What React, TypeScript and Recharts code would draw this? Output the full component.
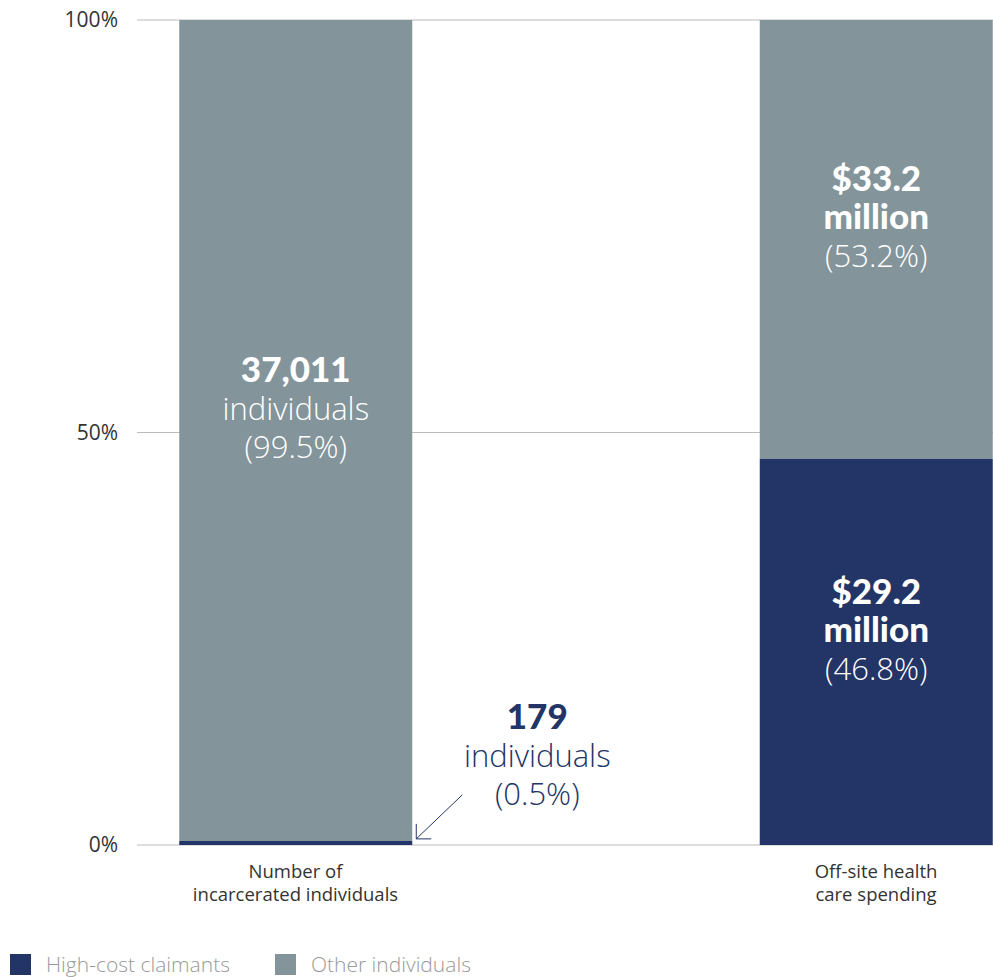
import React from "react"
import { Bar, BarChart, CartesianGrid, Legend, LabelList, XAxis, YAxis } from "recharts"

// shares in percent
const categories = ["Number of\nincarcerated individuals", "Off-site health\ncare spending"]
const highCostShare = [0.5, 46.8]
const otherShare = [99.5, 53.2]
const yTicks = [0, 50, 100]

// label lines: [text, bold]
const highCostLabels: [string, boolean][][] = [
    [["179", true], ["individuals", false], ["(0.5%)", false]],
    [["$29.2", true], ["million", true], ["(46.8%)", false]],
]
const otherLabels: [string, boolean][][] = [
    [["37,011", true], ["individuals", false], ["(99.5%)", false]],
    [["$33.2", true], ["million", true], ["(53.2%)", false]],
]

const NAVY = "#233466"
const GRAY = "#84949b"
const FONT = "'Open Sans', Lato, sans-serif"
const BOLD_FONT = "Lato, 'Open Sans', sans-serif"
const LINE = 38

const data = categories.map((name, i) => ({
    name,
    highCost: highCostShare[i],
    other: otherShare[i],
}))

function Lines({ lines, cx, midY, fill }: { lines: [string, boolean][]; cx: number; midY: number; fill: string }) {
    return (
        <g>
            {lines.map(([t, bold], k) => (
                <text
                    key={k}
                    x={cx}
                    y={midY + (k - 1) * LINE}
                    textAnchor="middle"
                    fill={fill}
                    fontFamily={bold ? BOLD_FONT : FONT}
                    fontWeight={bold ? 900 : 300}
                    fontSize={bold ? 35 : 31}
                >
                    {t}
                </text>
            ))}
        </g>
    )
}

function otherLabel(props: any) {
    const { x, y, width, height, index } = props
    return <Lines lines={otherLabels[index]} cx={x + width / 2} midY={y + height / 2 - 10} fill="#fff" />
}

function highCostLabel(props: any) {
    const { x, y, width, height, index } = props
    if (height < 30) {
        // too thin: put it beside the bar with an arrow
        const right = x + width
        const ax = right + 4
        const ay = y - 2
        return (
            <g>
                <Lines lines={highCostLabels[index]} cx={right + 125} midY={y - 74} fill={NAVY} />
                <line x1={right + 50} y1={y - 46} x2={ax} y2={ay} stroke={NAVY} strokeWidth={1} />
                <polyline points={`${ax},${ay - 15} ${ax},${ay} ${ax + 15},${ay}`} fill="none" stroke={NAVY} strokeWidth={1} />
            </g>
        )
    }
    return <Lines lines={highCostLabels[index]} cx={x + width / 2} midY={y + height / 2 - 10} fill="#fff" />
}

function CategoryTick(props: any) {
    const { x, y, payload } = props
    const parts = String(payload.value).split("\n")
    return (
        <g>
            {parts.map((p, i) => (
                <text key={i} x={x} y={y + 25 + i * 23} textAnchor="middle" fill="#333" fontFamily={FONT} fontWeight={400} fontSize={18.5}>
                    {p}
                </text>
            ))}
        </g>
    )
}

function LegendBox({ payload }: any) {
    return (
        <div style={{ display: "flex", fontFamily: FONT, fontWeight: 300, fontSize: 21, color: "#999", lineHeight: "21px" }}>
            {payload.map((p: any) => (
                <div key={p.value} style={{ display: "flex", alignItems: "center", marginRight: 45 }}>
                    <span style={{ width: 21, height: 21, background: p.color, marginRight: 15, display: "inline-block" }} />
                    {p.value}
                </div>
            ))}
        </div>
    )
}

export default function App() {
    return (
        <div style={{ position: "absolute", left: 0, top: 0, background: "#fff" }}>
            <BarChart width={993} height={977} data={data} margin={{ top: 20, right: 0, left: 0, bottom: 102 }}>
                <CartesianGrid vertical={false} stroke="#bbb" />
                <XAxis
                    dataKey="name"
                    axisLine={false}
                    tickLine={false}
                    padding={{ left: -131.75, right: -173.25 }}
                    tick={<CategoryTick />}
                    interval={0}
                />
                <YAxis
                    domain={[0, 100]}
                    ticks={yTicks}
                    width={137}
                    axisLine={false}
                    tickLine={false}
                    tickMargin={13}
                    tickFormatter={(v) => `${v}%`}
                    tick={{ fill: "#333", fontSize: 21, fontFamily: FONT, fontWeight: 400 }}
                />
                <Legend
                    verticalAlign="middle"
                    content={<LegendBox />}
                    wrapperStyle={{ top: 954, left: 10, width: "auto", height: 21 }}
                />
                <Bar dataKey="highCost" name="High-cost claimants" stackId="a" fill={NAVY} barSize={233} isAnimationActive={false}>
                    <LabelList dataKey="highCost" content={highCostLabel} />
                </Bar>
                <Bar dataKey="other" name="Other individuals" stackId="a" fill={GRAY} barSize={233} isAnimationActive={false}>
                    <LabelList dataKey="other" content={otherLabel} />
                </Bar>
            </BarChart>
        </div>
    )
}
